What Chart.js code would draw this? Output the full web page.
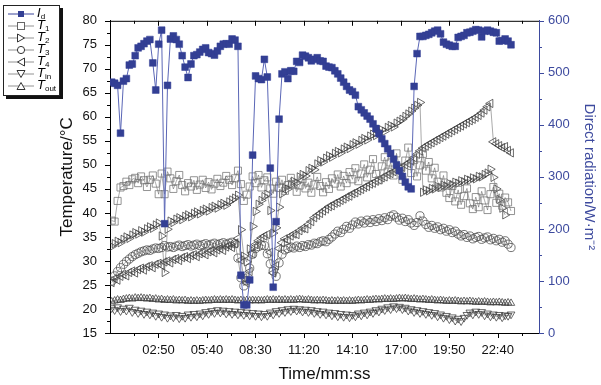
<!DOCTYPE html>
<html>
<head>
<meta charset="utf-8">
<script src="https://cdn.jsdelivr.net/npm/chart.js@4.4.1/dist/chart.umd.min.js"></script>
<style>
  html, body { margin: 0; padding: 0; background: #fff; }
  body { font-family: "Liberation Sans", Arial, sans-serif; }
  #wrap { position: relative; width: 601px; height: 385px; }
  #legend { position: absolute; left: 3px; top: 5px; width: 55px; height: 89px;
            border: 1px solid #222; background: #fff; box-shadow: 3px 3px 0 #111; }
  #legend .row { position: absolute; left: 0; width: 55px; height: 12px; }
  #legend svg { position: absolute; left: 2px; top: 0; }
  #legend .lab { position: absolute; left: 33px; top: -2px; font-size: 13px; font-style: italic;
                 line-height: 14px; color: #000; white-space: nowrap; }
  #legend .lab sub { font-style: normal; font-size: 8px; vertical-align: -2px; line-height: 0; }
</style>
</head>
<body>
<div id="wrap">
  <canvas id="c" width="601" height="385"></canvas>
  <div id="legend"></div>
</div>
<script>
// records every ~10 s
var sampleStart = 6;
var sampleStep = 10.3;
var xMax = 1505;
var xTickSec = [170, 340, 510, 680, 850, 1020, 1190, 1360];
var xTickLabels = ['02:50', '05:40', '08:30', '11:20', '14:10', '17:00', '19:50', '22:40'];

// direct radiation, W/m2
var idW = [
  482, 480, 476, 384, 484, 489, 515, 517, 533, 548,
  551, 556, 561, 564, 519, 467, 555, 582, 210, 476,
  565, 571, 564, 555, 533, 511, 491, 517, 533, 535,
  540, 545, 548, 539, 537, 534, 542, 551, 555, 556,
  555, 565, 563, 551, 111, 54, 54, 102, 342, 494,
  489, 487, 526, 492, 317, 88, 214, 411, 498, 502,
  489, 504, 503, 522, 520, 534, 532, 529, 523, 526,
  529, 523, 522, 513, 511, 510, 504, 498, 490, 482,
  474, 467, 464, 457, 435, 429, 423, 417, 411, 402,
  393, 383, 373, 364, 354, 345, 334, 323, 312, 301,
  290, 281, 277, 474, 537, 570, 570, 572, 574, 577,
  580, 582, 575, 559, 555, 553, 551, 551, 568, 570,
  572, 577, 578, 580, 583, 582, 569, 580, 582, 580,
  578, 577, 561, 562, 565, 561, 554
];

// temperatures, degC
var t1 = [
  38.4, 38.2, 42.5, 45.3, 45.6, 46.5, 45.8, 47.0, 47.3, 46.2,
  47.6, 46.8, 45.4, 46.9, 47.8, 46.1, 43.9, 48.2, 43.9, 48.6,
  47.2, 45.0, 46.6, 47.9, 45.8, 44.5, 46.2, 45.5, 46.8, 44.8,
  45.9, 46.9, 45.2, 46.4, 44.9, 46.1, 47.1, 45.6, 46.3, 47.7,
  46.9, 45.8, 47.2, 48.8, 46.0, 42.5, 43.8, 45.5, 47.6, 46.2,
  47.9, 45.3, 46.8, 47.4, 45.1, 44.0, 46.5, 45.2, 46.9, 44.6,
  45.8, 47.3, 46.0, 44.4, 45.7, 47.0, 45.1, 46.3, 44.2, 45.9,
  47.5, 45.6, 44.3, 46.4, 45.0, 47.2, 46.1, 48.0, 45.5, 47.7,
  46.2, 48.5, 47.0, 49.3, 46.6, 48.2, 50.1, 47.4, 49.0, 51.2,
  48.1, 46.8, 49.7, 51.6, 48.6, 50.5, 47.8, 52.4, 49.5, 46.9,
  50.9, 53.6, 48.3, 51.0, 47.6, 49.9, 52.3, 48.8, 50.6, 47.2,
  49.4, 46.5, 45.3, 47.8, 44.2, 43.1, 45.6, 42.4, 44.8, 41.7,
  43.5, 45.1, 42.0, 40.8, 43.3, 41.2, 44.5, 42.6, 40.6, 43.9,
  45.4, 42.1, 44.0, 41.5, 43.2, 42.2, 40.4
];
var t2 = [
  33.0, 33.6, 34.1, 33.8, 34.5, 35.0, 34.7, 35.4, 35.9, 35.6,
  36.3, 36.0, 36.7, 37.1, 36.8, 37.5, 37.9, 35.2, 27.6, 36.6,
  38.3, 38.0, 38.7, 39.0, 38.6, 39.3, 39.6, 39.2, 39.9, 40.2,
  39.8, 40.5, 40.8, 40.4, 41.1, 41.4, 41.0, 41.7, 42.0, 41.6,
  42.3, 42.7, 43.1, 43.7, 36.5, 31.0, 29.8, 32.5, 37.2, 40.3,
  41.8, 42.6, 43.4, 43.9, 40.5, 35.8, 36.9, 41.2, 44.0, 45.2,
  45.0, 45.9, 46.6, 46.3, 47.5, 48.0, 47.7, 48.8, 49.3, 49.0,
  50.2, 50.9, 50.6, 51.4, 51.9, 51.6, 52.4, 52.8, 52.5, 53.3,
  53.7, 53.4, 54.2, 54.6, 54.3, 55.1, 55.5, 55.2, 56.0, 56.4,
  56.1, 56.9, 57.3, 57.0, 57.8, 58.2, 57.9, 58.7, 59.1, 59.5,
  60.1, 60.6, 61.2, 61.8, 62.4, 63.0, 44.3, 44.8, 44.6, 45.1,
  45.0, 45.5, 45.3, 45.8, 45.6, 46.1, 45.9, 46.4, 46.2, 46.7,
  46.5, 47.0, 46.8, 47.3, 47.1, 47.6, 47.5, 48.0, 48.3, 49.1,
  47.4, 45.0, 42.8, 41.0, 39.6, null, null
];
var t3 = [
  25.8, 26.9, 27.8, 28.6, 29.3, 29.9, 30.4, 30.9, 31.3, 31.6,
  31.9, 32.1, 32.3, 32.2, 32.5, 32.7, 32.6, 32.8, 33.2, 32.9,
  33.0, 32.8, 33.1, 33.3, 33.0, 33.2, 33.4, 33.1, 33.3, 33.5,
  33.2, 33.4, 33.6, 33.3, 33.5, 33.7, 33.4, 33.6, 33.8, 33.5,
  33.7, 33.9, 33.6, 30.6, 26.5, 24.8, 25.9, 28.5, 31.4, 32.6,
  33.0, 33.3, 33.2, 31.5, 29.4, 27.9, 26.8, 29.6, 31.4, 32.3,
  32.6, 32.9, 32.7, 33.1, 32.8, 33.2, 33.0, 33.4, 33.3, 33.7,
  33.6, 34.0, 34.2, 34.0, 34.5, 35.0, 35.6, 36.2, 35.9, 36.6,
  37.2, 36.8, 37.5, 38.1, 37.7, 38.3, 37.9, 38.5, 38.0, 38.6,
  38.2, 38.8, 38.4, 39.0, 38.6, 39.3, 39.6, 39.1, 38.5, 38.9,
  38.2, 38.6, 37.9, 37.4, 38.0, 39.4, 38.3, 37.6, 37.0, 37.4,
  36.8, 37.1, 36.5, 36.8, 36.2, 36.5, 35.9, 36.2, 35.6, 35.2,
  35.5, 34.9, 35.2, 34.6, 34.9, 35.1, 34.5, 34.8, 35.0, 34.4,
  34.7, 34.2, 34.5, 33.9, 34.2, 33.5, 32.8
];
var t4 = [
  25.5, 26.3, 26.0, 26.8, 27.2, 26.9, 27.6, 27.9, 27.5, 28.2,
  28.5, 28.1, 28.8, 29.0, 28.6, 29.3, 29.5, 29.1, 29.8, 30.0,
  29.6, 30.3, 30.5, 30.1, 30.7, 30.9, 30.5, 31.1, 31.3, 30.9,
  31.5, 31.7, 31.3, 31.9, 32.1, 31.7, 32.3, 32.6, 32.2, 32.9,
  33.2, 32.8, 33.6, 34.7, 30.2, 26.5, 25.4, 27.8, 31.5, 33.4,
  34.2, 34.8, 35.2, 35.5, 31.8, 27.5, 29.0, 32.6, 33.8, 34.6,
  34.4, 35.2, 35.6, 35.5, 36.3, 36.8, 36.7, 37.6, 38.2, 39.0,
  39.5, 39.9, 40.4, 40.8, 41.3, 41.5, 42.0, 42.2, 42.6, 42.9,
  43.3, 43.5, 44.0, 44.2, 44.6, 44.9, 45.3, 45.5, 46.0, 46.2,
  46.6, 46.9, 47.3, 47.5, 48.0, 48.2, 48.6, 48.9, 49.3, 49.5,
  50.0, 50.3, 50.8, 51.5, 52.2, 52.9, 53.5, 53.9, 54.3, 54.6,
  55.0, 55.3, 55.7, 56.0, 56.4, 56.7, 57.1, 57.4, 57.8, 58.1,
  58.5, 58.8, 59.2, 59.5, 59.9, 60.3, 60.8, 61.4, 62.1, 62.8,
  54.8, 54.4, 54.0, 53.6, 53.8, 53.0, 52.5
];
var tIn = [
  20.2, 19.8, 20.4, 19.6, 20.1, 19.7, 20.3, 19.4, 19.9, 19.2,
  19.7, 19.0, 19.5, 18.9, 19.3, 18.6, 19.1, 18.4, 18.9, 18.2,
  18.7, 18.3, 18.8, 18.1, 18.6, 18.2, 18.9, 18.4, 19.0, 18.5,
  19.1, 18.7, 19.4, 19.0, 19.6, 19.2, 19.8, 19.3, 19.7, 19.1,
  19.6, 19.0, 19.5, 18.9, 19.4, 18.8, 19.3, 18.7, 19.2, 18.6,
  19.1, 18.5, 19.0, 18.6, 19.3, 18.9, 19.6, 19.2, 19.8, 19.4,
  20.0, 19.6, 20.1, 19.7, 20.0, 19.5, 19.9, 19.4, 19.8, 19.2,
  19.6, 19.0, 19.5, 18.9, 19.3, 18.7, 19.2, 18.5, 19.0, 18.4,
  18.9, 18.3, 18.8, 18.5, 19.1, 18.7, 19.3, 18.9, 19.5, 19.2,
  19.8, 19.5, 20.1, 19.8, 20.4, 20.0, 20.6, 20.2, 20.5, 20.0,
  20.3, 19.7, 20.0, 19.4, 19.8, 19.2, 19.6, 19.0, 19.4, 18.8,
  19.2, 18.5, 18.9, 18.2, 18.6, 17.9, 18.3, 17.6, 18.0, 17.5,
  18.2, 18.8, 19.3, 18.9, 19.5, 19.0, 19.4, 18.7, 19.1, 18.5,
  18.9, 18.4, 18.8, 18.3, 18.7, 18.6, 18.9
];
var tOut = [
  21.5, 21.7, 21.9, 21.8, 22.0, 22.1, 22.2, 22.1, 22.3, 22.2,
  22.3, 22.2, 22.1, 22.2, 22.0, 22.1, 21.9, 22.0, 21.8, 21.9,
  21.8, 21.9, 21.7, 21.8, 21.7, 21.8, 21.6, 21.7, 21.6, 21.7,
  21.6, 21.7, 21.8, 21.7, 21.8, 21.9, 21.8, 21.9, 21.8, 21.9,
  21.8, 21.9, 21.8, 21.7, 21.8, 21.7, 21.8, 21.7, 21.8, 21.7,
  21.8, 21.7, 21.8, 21.9, 21.8, 21.9, 21.8, 21.9, 21.8, 21.9,
  21.8, 21.9, 21.8, 21.9, 22.0, 21.9, 21.8, 21.9, 21.8, 21.7,
  21.8, 21.7, 21.8, 21.7, 21.6, 21.7, 21.6, 21.7, 21.6, 21.7,
  21.6, 21.7, 21.6, 21.7, 21.8, 21.7, 21.8, 21.9, 21.8, 21.9,
  22.0, 21.9, 22.0, 22.1, 22.0, 22.1, 22.0, 22.1, 22.2, 22.1,
  22.2, 22.1, 22.0, 22.1, 22.0, 21.9, 22.0, 21.9, 21.8, 21.9,
  21.8, 21.7, 21.8, 21.7, 21.6, 21.7, 21.6, 21.7, 21.6, 21.5,
  21.6, 21.5, 21.6, 21.5, 21.4, 21.5, 21.4, 21.5, 21.4, 21.3,
  21.4, 21.3, 21.4, 21.3, 21.2, 21.3, 21.2
];

var sampleSec = idW.map(function (v, i) { return sampleStart + i * sampleStep; });

function pts(arr) {
  return arr.map(function (v, i) { return {x: sampleSec[i], y: v}; });
}

var navy = '#333f94';
var blueAxis = '#3d4a9e';

function tempSet(label, arr, style, rot, radius, col) {
  return {
    label: label, data: pts(arr), yAxisID: 'y', order: 1,
    borderColor: '#555', borderWidth: 0.5,
    pointStyle: style, pointRotation: rot, pointRadius: radius,
    pointBorderColor: col, pointBackgroundColor: 'rgba(0,0,0,0)', pointBorderWidth: 0.75,
    tension: 0, spanGaps: false
  };
}

// minor/major ticks on all four sides
var axisTicks = {
  id: 'axisTicks',
  afterDraw: function (chart) {
    var ctx = chart.ctx, a = chart.chartArea, s = chart.scales;
    function seg(x1, y1, x2, y2, c) {
      ctx.strokeStyle = c;
      ctx.beginPath(); ctx.moveTo(x1, y1); ctx.lineTo(x2, y2); ctx.stroke();
    }
    ctx.save();
    ctx.lineWidth = 1;
    seg(a.left, a.top + 0.5, a.right, a.top + 0.5, '#000');
    for (var t = 85; t < xMax; t += 85) {
      var px = Math.round(s.x.getPixelForValue(t)) + 0.5;
      var len = (t % 170 === 0) ? 5 : 3;
      seg(px, a.bottom, px, a.bottom + len, '#000');
      seg(px, a.top, px, a.top + len, '#000');
    }
    for (var v = 15; v <= 80; v += 2.5) {
      var py = Math.round(s.y.getPixelForValue(v)) + 0.5;
      seg(a.left, py, a.left - ((v % 5 === 0) ? 5 : 3), py, '#000');
    }
    for (var w = 0; w <= 600; w += 50) {
      var py2 = Math.round(s.y2.getPixelForValue(w)) + 0.5;
      seg(a.right, py2, a.right + ((w % 100 === 0) ? 5 : 3), py2, blueAxis);
    }
    ctx.restore();
  }
};

Chart.defaults.font.family = '"Liberation Sans", Arial, sans-serif';

new Chart(document.getElementById('c'), {
  type: 'line',
  data: {
    datasets: [
      {
        label: 'Id', data: pts(idW), yAxisID: 'y2', order: 0,
        borderColor: '#5a66b6', borderWidth: 1,
        pointStyle: 'rect', pointRadius: 4.8,
        pointBackgroundColor: navy, pointBorderColor: navy, pointBorderWidth: 0.5,
        tension: 0
      },
      tempSet('T1', t1, 'rect', 0, 5, '#707070'),
      tempSet('T2', t2, 'triangle', 90, 4.8, '#3a3a3a'),
      tempSet('T3', t3, 'circle', 0, 4.1, '#4a4a4a'),
      tempSet('T4', t4, 'triangle', 270, 4.8, '#3a3a3a'),
      tempSet('Tin', tIn, 'triangle', 180, 4.5, '#3a3a3a'),
      tempSet('Tout', tOut, 'triangle', 0, 4.3, '#3a3a3a')
    ]
  },
  options: {
    responsive: false,
    animation: false,
    layout: {padding: {top: 16, left: 0, right: 0, bottom: 0}},
    plugins: {legend: {display: false}, tooltip: {enabled: false}},
    scales: {
      x: {
        type: 'linear', position: 'bottom', min: 0, max: xMax,
        afterBuildTicks: function (scale) {
          scale.ticks = xTickSec.map(function (v) { return {value: v}; });
        },
        afterFit: function (scale) { scale.height = 52; },
        grid: {display: false, drawTicks: false},
        border: {display: true, color: '#000', width: 1},
        ticks: {
          autoSkip: false, maxRotation: 0, padding: 10, color: '#111',
          font: {size: 13},
          callback: function (value, index) { return xTickLabels[index]; }
        },
        title: {display: true, text: 'Time/mm:ss', color: '#111',
                font: {size: 17}, padding: {top: 2, bottom: 0}}
      },
      y: {
        position: 'left', min: 15, max: 80,
        afterFit: function (scale) { scale.width = 110; },
        grid: {display: false, drawTicks: false},
        border: {display: true, color: '#000', width: 1},
        ticks: {stepSize: 5, padding: 13, color: '#111', font: {size: 13}},
        title: {display: true, text: 'Temperature/°C', color: '#111',
                font: {size: 17}, padding: {top: 57, bottom: 0}}
      },
      y2: {
        position: 'right', min: 0, max: 600,
        afterFit: function (scale) { scale.width = 62; },
        grid: {display: false, drawTicks: false},
        border: {display: true, color: blueAxis, width: 1},
        ticks: {stepSize: 100, padding: 9, color: blueAxis, font: {size: 13}},
        title: {display: true, text: 'Direct radiation/W·m⁻²', color: blueAxis,
                font: {size: 15}, padding: {top: 3, bottom: 0}}
      }
    }
  },
  plugins: [axisTicks]
});

// legend
var legendItems = [
  {main: 'I', sub: 'd', sym: 'sqfill'},
  {main: 'T', sub: '1', sym: 'sq'},
  {main: 'T', sub: '2', sym: 'right'},
  {main: 'T', sub: '3', sym: 'circ'},
  {main: 'T', sub: '4', sym: 'left'},
  {main: 'T', sub: 'in', sym: 'down'},
  {main: 'T', sub: 'out', sym: 'up'}
];
var symSvg = {
  sqfill: '<line x1="2" y1="6" x2="28" y2="6" stroke="#3a449a" stroke-width="1"/><rect x="12" y="3" width="6" height="6" fill="' + navy + '"/>',
  sq: '<rect x="11.5" y="2.5" width="7" height="7" fill="#fff" stroke="#666"/>',
  right: '<polygon points="11.5,2 18.5,6 11.5,10" fill="#fff" stroke="#333"/>',
  circ: '<circle cx="15" cy="6" r="3.6" fill="#fff" stroke="#333"/>',
  left: '<polygon points="18.5,2 11.5,6 18.5,10" fill="#fff" stroke="#333"/>',
  down: '<polygon points="11,2.5 19,2.5 15,9.5" fill="#fff" stroke="#333"/>',
  up: '<polygon points="15,2.5 19,9.5 11,9.5" fill="#fff" stroke="#333"/>'
};
var html = '';
legendItems.forEach(function (it, k) {
  var base = it.sym === 'sqfill' ? '' : '<line x1="2" y1="6" x2="28" y2="6" stroke="#777" stroke-width="0.8"/>';
  html += '<div class="row" style="top:' + (2 + 12 * k) + 'px">' +
    '<svg width="30" height="12">' + base + symSvg[it.sym] + '</svg>' +
    '<span class="lab">' + it.main + '<sub>' + it.sub + '</sub></span></div>';
});
document.getElementById('legend').innerHTML = html;
</script>
</body>
</html>
